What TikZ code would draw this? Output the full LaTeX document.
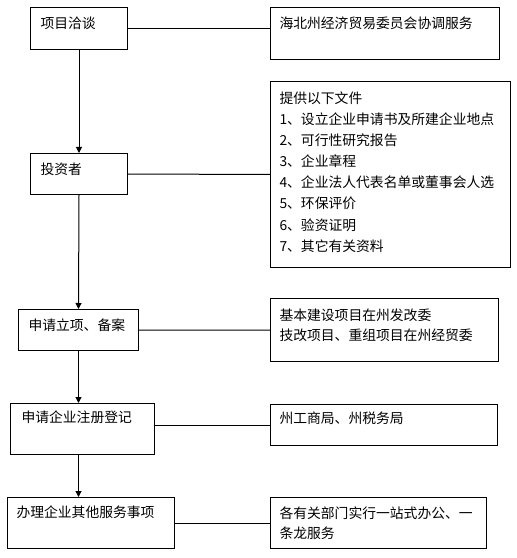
\documentclass[tikz,border=0pt]{standalone}
\usepackage{fontspec}
\newfontfamily\cjk{Noto Sans CJK SC}
\usetikzlibrary{arrows.meta}
\begin{document}
\begin{tikzpicture}[x=1bp, y=-1bp, line width=1bp,
  stepbox/.style={draw, anchor=north west, inner ysep=0pt, align=left,
    font=\cjk\fontsize{13.8bp}{20bp}\selectfont},
  flow/.style={-{Triangle[length=6bp, width=6bp]}}]
\useasboundingbox (0,0) rectangle (517,558);
\node[stepbox, text width=77bp, inner xsep=10bp, text height=21bp, text depth=21bp] (talks) at (30,7) {项目洽谈};
\node[stepbox, text width=211bp, inner xsep=9bp, text height=21bp, text depth=31bp] (econ) at (270,7) {海北州经济贸易委员会协调服务};
\node[stepbox, text width=77bp, inner xsep=10bp, text height=21bp, text depth=20bp] (investor) at (30,153) {投资者};
\node[stepbox, text width=222bp, inner xsep=9bp, text height=22bp, text depth=164bp,
  font=\cjk\fontsize{13.8bp}{21.1bp}\selectfont] (docs) at (270,81) {提供以下文件\\1、设立企业申请书及所建企业地点\\2、可行性研究报告\\3、企业章程\\4、企业法人代表名单或董事会人选\\5、环保评价\\6、验资证明\\7、其它有关资料};
\node[stepbox, text width=100bp, inner xsep=10bp, text height=21bp, text depth=20bp] (filing) at (18,309) {申请立项、备案};
\node[stepbox, text width=210bp, inner xsep=9bp, text height=22bp, text depth=41bp] (approve) at (270,298) {基本建设项目在州发改委\\技改项目、重组项目在州经贸委};
\node[stepbox, text width=122bp, inner xsep=11bp, text height=19bp, text depth=32bp] (register) at (10,403) {申请企业注册登记};
\node[stepbox, text width=209bp, inner xsep=9bp, text height=19bp, text depth=22bp] (tax) at (270,404) {州工商局、州税务局};
\node[stepbox, text width=149bp, inner xsep=9bp, text height=20bp, text depth=31bp] (services) at (7,497) {办理企业其他服务事项};
\node[stepbox, text width=198bp, inner xsep=9bp, text height=21bp, text depth=30bp] (onestop) at (270,497) {各有关部门实行一站式办公、一\\条龙服务};
\draw (talks.east) -- (talks.east -| econ.west);
\draw (investor.east) -- (docs.west);
\draw (filing.east) -- (approve.west);
\draw (tax.west -| register.east) -- (tax.west);
\draw (services.east) -- (onestop.west);
\draw[flow] (talks.south) -- (investor.north);
\draw[flow] (investor.south) -- (filing.north);
\draw[flow] (filing.south) -- (filing.south |- register.north);
\draw[flow] (filing.south |- register.south) -- (filing.south |- services.north);
\end{tikzpicture}
\end{document}
